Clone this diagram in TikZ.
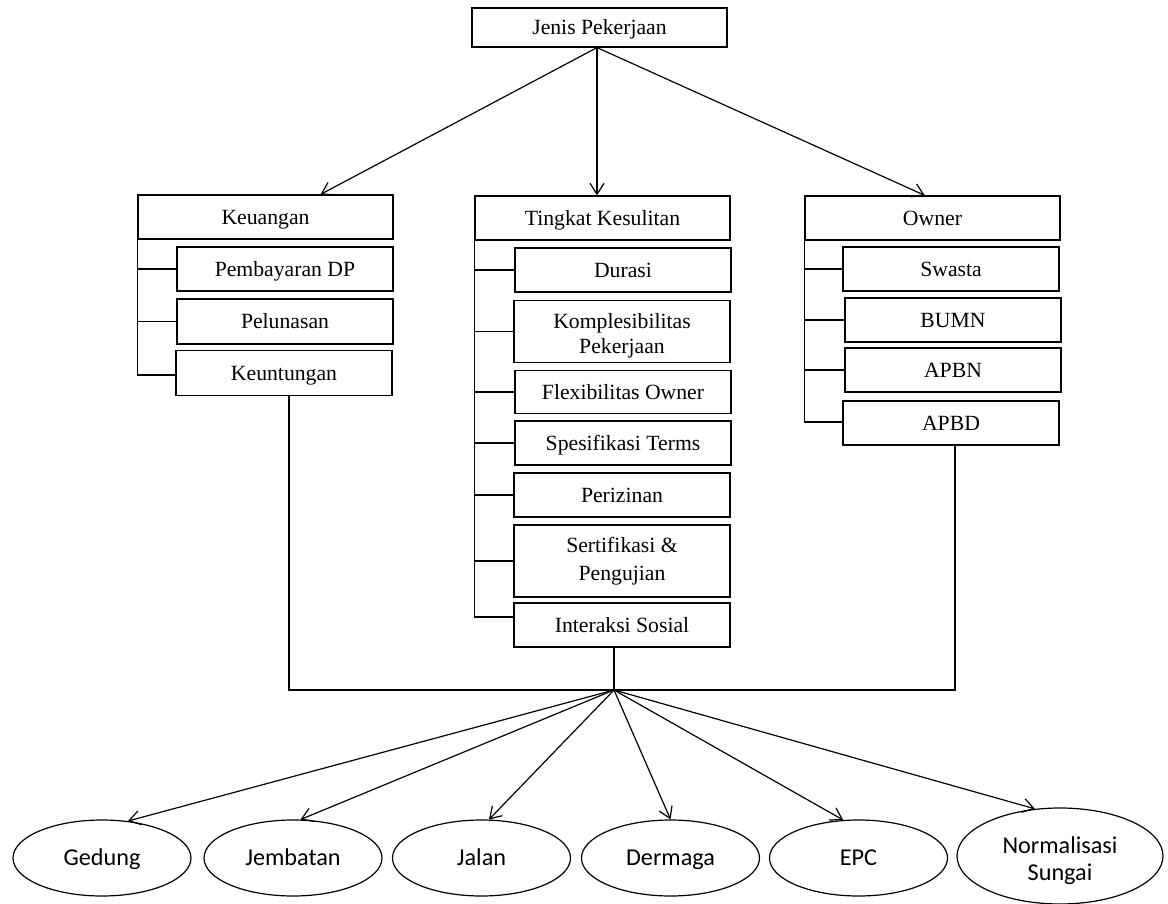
\documentclass[tikz,border=0pt]{standalone}
\usepackage{fontspec}
\setmainfont{Liberation Serif}
\newfontfamily\calib{Carlito}
\usetikzlibrary{arrows.meta,shapes.geometric,calc}
\begin{document}
\begin{tikzpicture}[x=1pt,y=-1pt,
  box/.style={draw,line width=1.2pt,rectangle,inner sep=0pt,font=\fontsize{21.7}{25}\selectfont,align=center},
  one/.style={text height=14.8pt,text depth=0pt},
  mainbox/.style={box,one,minimum width=255pt,minimum height=44pt},
  subbox/.style={box,minimum width=216pt,minimum height=44pt},
  ovalshape/.style={draw,line width=1.2pt,ellipse,inner sep=0pt,minimum width=178pt,minimum height=76pt},
  ovalfont/.style={font=\calib\fontsize{24.2}{27}\selectfont,align=center},
  oval/.style={ovalshape,ovalfont,text height=15.8pt,text depth=0pt},
  link/.style={line width=1.2pt},
  arr/.style={line width=1.2pt,-{Straight Barb[length=11pt,width=14pt]}}]
\useasboundingbox[fill=white] (0,0) rectangle (1168,904);

% top
\node[box,one,minimum width=255pt,minimum height=39pt] (jenis) at (599.5,27.5) {Jenis Pekerjaan};

% Keuangan
\node[mainbox] (keu) at (265.5,217) {Keuangan};
\node[subbox,one] (dp) at (285,269) {Pembayaran DP};
\node[subbox,one,minimum height=45pt] (lunas) at (285,321.5) {Pelunasan};
\node[subbox,one,minimum height=45pt] (untung) at (284,373) {Keuntungan};

% Tingkat Kesulitan
\node[mainbox] (tk) at (602.5,218) {Tingkat Kesulitan};
\node[subbox,one] (durasi) at (623,270) {Durasi};
\node[subbox,minimum height=62pt] (komp) at (622,331.5) {\rule{0pt}{24pt}Komplesibilitas\\Pekerjaan};
\node[subbox,one,minimum height=43pt] (flex) at (623,392) {Flexibilitas Owner};
\node[subbox,one] (spes) at (623,443) {Spesifikasi Terms};
\node[subbox,one] (izin) at (622,495) {Perizinan};
\node[subbox,minimum height=72pt] (sert) at (622,561) {Sertifikasi \&\\[3pt]Pengujian};
\node[subbox,one] (inter) at (622,625) {Interaksi Sosial};

% Owner
\node[mainbox] (own) at (932.5,218) {Owner};
\node[subbox,one] (swasta) at (951,269) {Swasta};
\node[subbox,one] (bumn) at (953,320) {BUMN};
\node[subbox,one] (apbn) at (953,370) {APBN};
\node[subbox,one] (apbd) at (951,423) {APBD};

% ellipses
\node[oval] (gedung) at (102,858) {Gedung};
\node[oval] (jembatan) at (293,858) {Jembatan};
\node[oval] (jalan) at (481.5,858) {Jalan};
\node[oval] (dermaga) at (670.5,858) {Dermaga};
\node[oval] (epc) at (858.5,858) {EPC};
\node[ovalshape,minimum width=206pt,minimum height=96pt] (norm) at (1060,856) {};
\node[ovalfont,inner sep=0pt] (normtext) at ($(norm.center)+(0,5)$) {Normalisasi\\Sungai};

% top arrows
\coordinate (js) at ($(jenis.south)+(-2.5,0)$);
\draw[arr] (js) -- ($(keu.north west)!0.715!(keu.north east)$);
\draw[arr] (js) -- (js |- tk.north);
\draw[arr] (js) -- ($(own.north west)!0.47!(own.north east)$);

% brackets
\draw[link] (keu.south west) |- ($(untung.west)+(0,2)$);
\draw[link] (keu.south west |- dp.west) -- (dp.west);
\draw[link] (keu.south west |- lunas.west) -- (lunas.west);

\draw[link] (tk.south west) |- ($(inter.west)+(0,-8)$);
\draw[link] (tk.south west |- durasi.west) -- (durasi.west);
\draw[link] (tk.south west |- komp.west) -- (komp.west);
\draw[link] (tk.south west |- flex.west) -- (flex.west);
\draw[link] (tk.south west |- spes.west) -- (spes.west);
\draw[link] (tk.south west |- izin.west) -- (izin.west);
\draw[link] (tk.south west |- sert.west) -- (sert.west);

\draw[link] (own.south west) |- ($(apbd.west)+(0,-1)$);
\draw[link] (own.south west |- swasta.west) -- (swasta.west);
\draw[link] (own.south west |- bumn.west) -- (bumn.west);
\draw[link] (own.south west |- apbn.west) -- (apbn.west);

% collector
\coordinate (j) at (614,690);
\draw[link] ($(untung.south)+(5,0)$) |- (j) -| ($(apbd.south)+(4,0)$);
\draw[link] ($(inter.south)+(-8,0)$) -- (j);

% bottom arrows
\draw[arr] (j) -- (gedung.55.6);
\draw[arr] (j) -- (jembatan.79);
\draw[arr] (j) -- (jalan.79);
\draw[arr] (j) -- (dermaga.90);
\draw[arr] (j) -- (epc.112);
\draw[arr] (j) -- (norm.118);
\end{tikzpicture}
\end{document}
